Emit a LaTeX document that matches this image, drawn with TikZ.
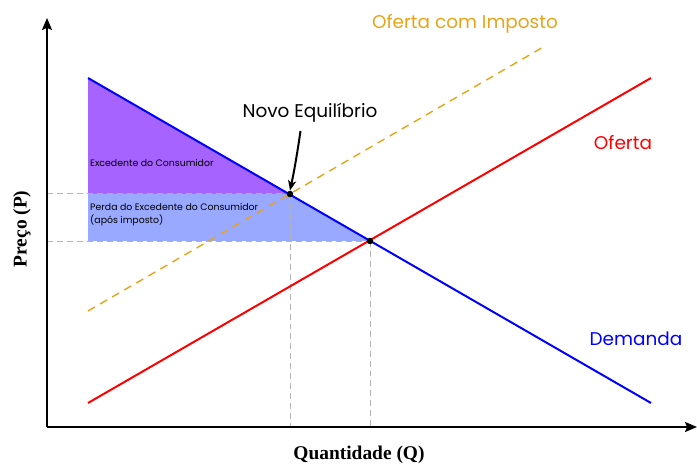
\documentclass[tikz,border=0pt]{standalone}
\usepackage{fontspec}
\setmainfont{Poppins}
\newfontfamily\axisfont{Liberation Serif}
\usetikzlibrary{arrows.meta}
\definecolor{cspurple}{HTML}{A663FF}
\definecolor{csblue}{HTML}{99A9FF}
\definecolor{taxorange}{HTML}{E8A317}
\tikzset{
  axisline/.style={line width=2pt,-{Stealth[length=12pt,width=10pt,inset=2pt]}},
  curveline/.style={line width=2pt},
  guide/.style={gray!60,line width=1pt,dash pattern=on 6pt off 4pt},
  dot/.style={circle,fill=black,inner sep=0pt,minimum size=6.5pt},
  lbl/.style={font=\fontsize{18.5}{22}\selectfont,inner sep=0pt},
  smalllbl/.style={font=\fontsize{9.4}{13}\selectfont,inner sep=0pt,anchor=west,align=left},
  axislbl/.style={font=\axisfont\bfseries\fontsize{19.5}{22}\selectfont,inner sep=0pt}
}
\begin{document}
\begin{tikzpicture}[x=1bp,y=-1bp]
\useasboundingbox (0,0) rectangle (697,465);
% key points
\coordinate (O) at (47,427);
\coordinate (Ytop) at (47,18);
\coordinate (Xend) at (697,427);
\coordinate (D1) at (88,78);
\coordinate (D2) at (651,403);
\coordinate (S1) at (88,403);
\coordinate (S2) at (651,78);
\coordinate (T1) at (88,311);
\coordinate (T2) at (545,46);
\coordinate (E1) at (370,241);
\coordinate (E2) at (290,194);
\coordinate (A1) at (88,194);
\coordinate (A2) at (88,241);
\coordinate (L1) at (47,194);
\coordinate (L2) at (47,241);
\coordinate (B1) at (290,427);
\coordinate (B2) at (370,427);
% areas
\fill[cspurple] (D1) -- (E2) -- (A1) -- cycle;
\fill[csblue] (A1) -- (E2) -- (E1) -- (A2) -- cycle;
% guides
\draw[guide] (L1) -- (E2);
\draw[guide] (L2) -- (E1);
\draw[guide] (E2) -- (B1);
\draw[guide] (E1) -- (B2);
% curves
\draw[taxorange,line width=1.4pt,dash pattern=on 8pt off 6pt] (T1) -- (T2);
\draw[curveline,red] (S1) -- (S2);
\draw[curveline,blue] (D1) -- (D2);
% axes
\draw[axisline] (O) -- (Ytop);
\draw[axisline] (O) -- (Xend);
% dots
\node[dot] (eq) at (E1) {};
\node[dot] (neq) at (E2) {};
% labels
\node[lbl,text=taxorange] (tlab) at (465,24) {Oferta com Imposto};
\node[lbl,text=red] (slab) at (623,143) {Oferta};
\node[lbl,text=blue] (dlab) at (636,339) {Demanda};
\node[lbl] (nlab) at (310,113) {Novo Equilíbrio};
\coordinate (astart) at (300.5,131);
\draw[line width=2pt,-{Stealth[length=10pt,width=8pt,inset=2.5pt]}] (astart) .. controls (297,155) and (294,172) .. (neq.north);
\node[smalllbl] (cs) at (90,163) {Excedente do Consumidor};
\node[smalllbl] (loss) at (90,215) {Perda do Excedente do Consumidor\\(após imposto)};
\node[axislbl] (qlab) at (359,455) {Quantidade (Q)};
\node[axislbl,rotate=90] (plab) at (22,229) {Preço (P)};
\end{tikzpicture}
\end{document}
